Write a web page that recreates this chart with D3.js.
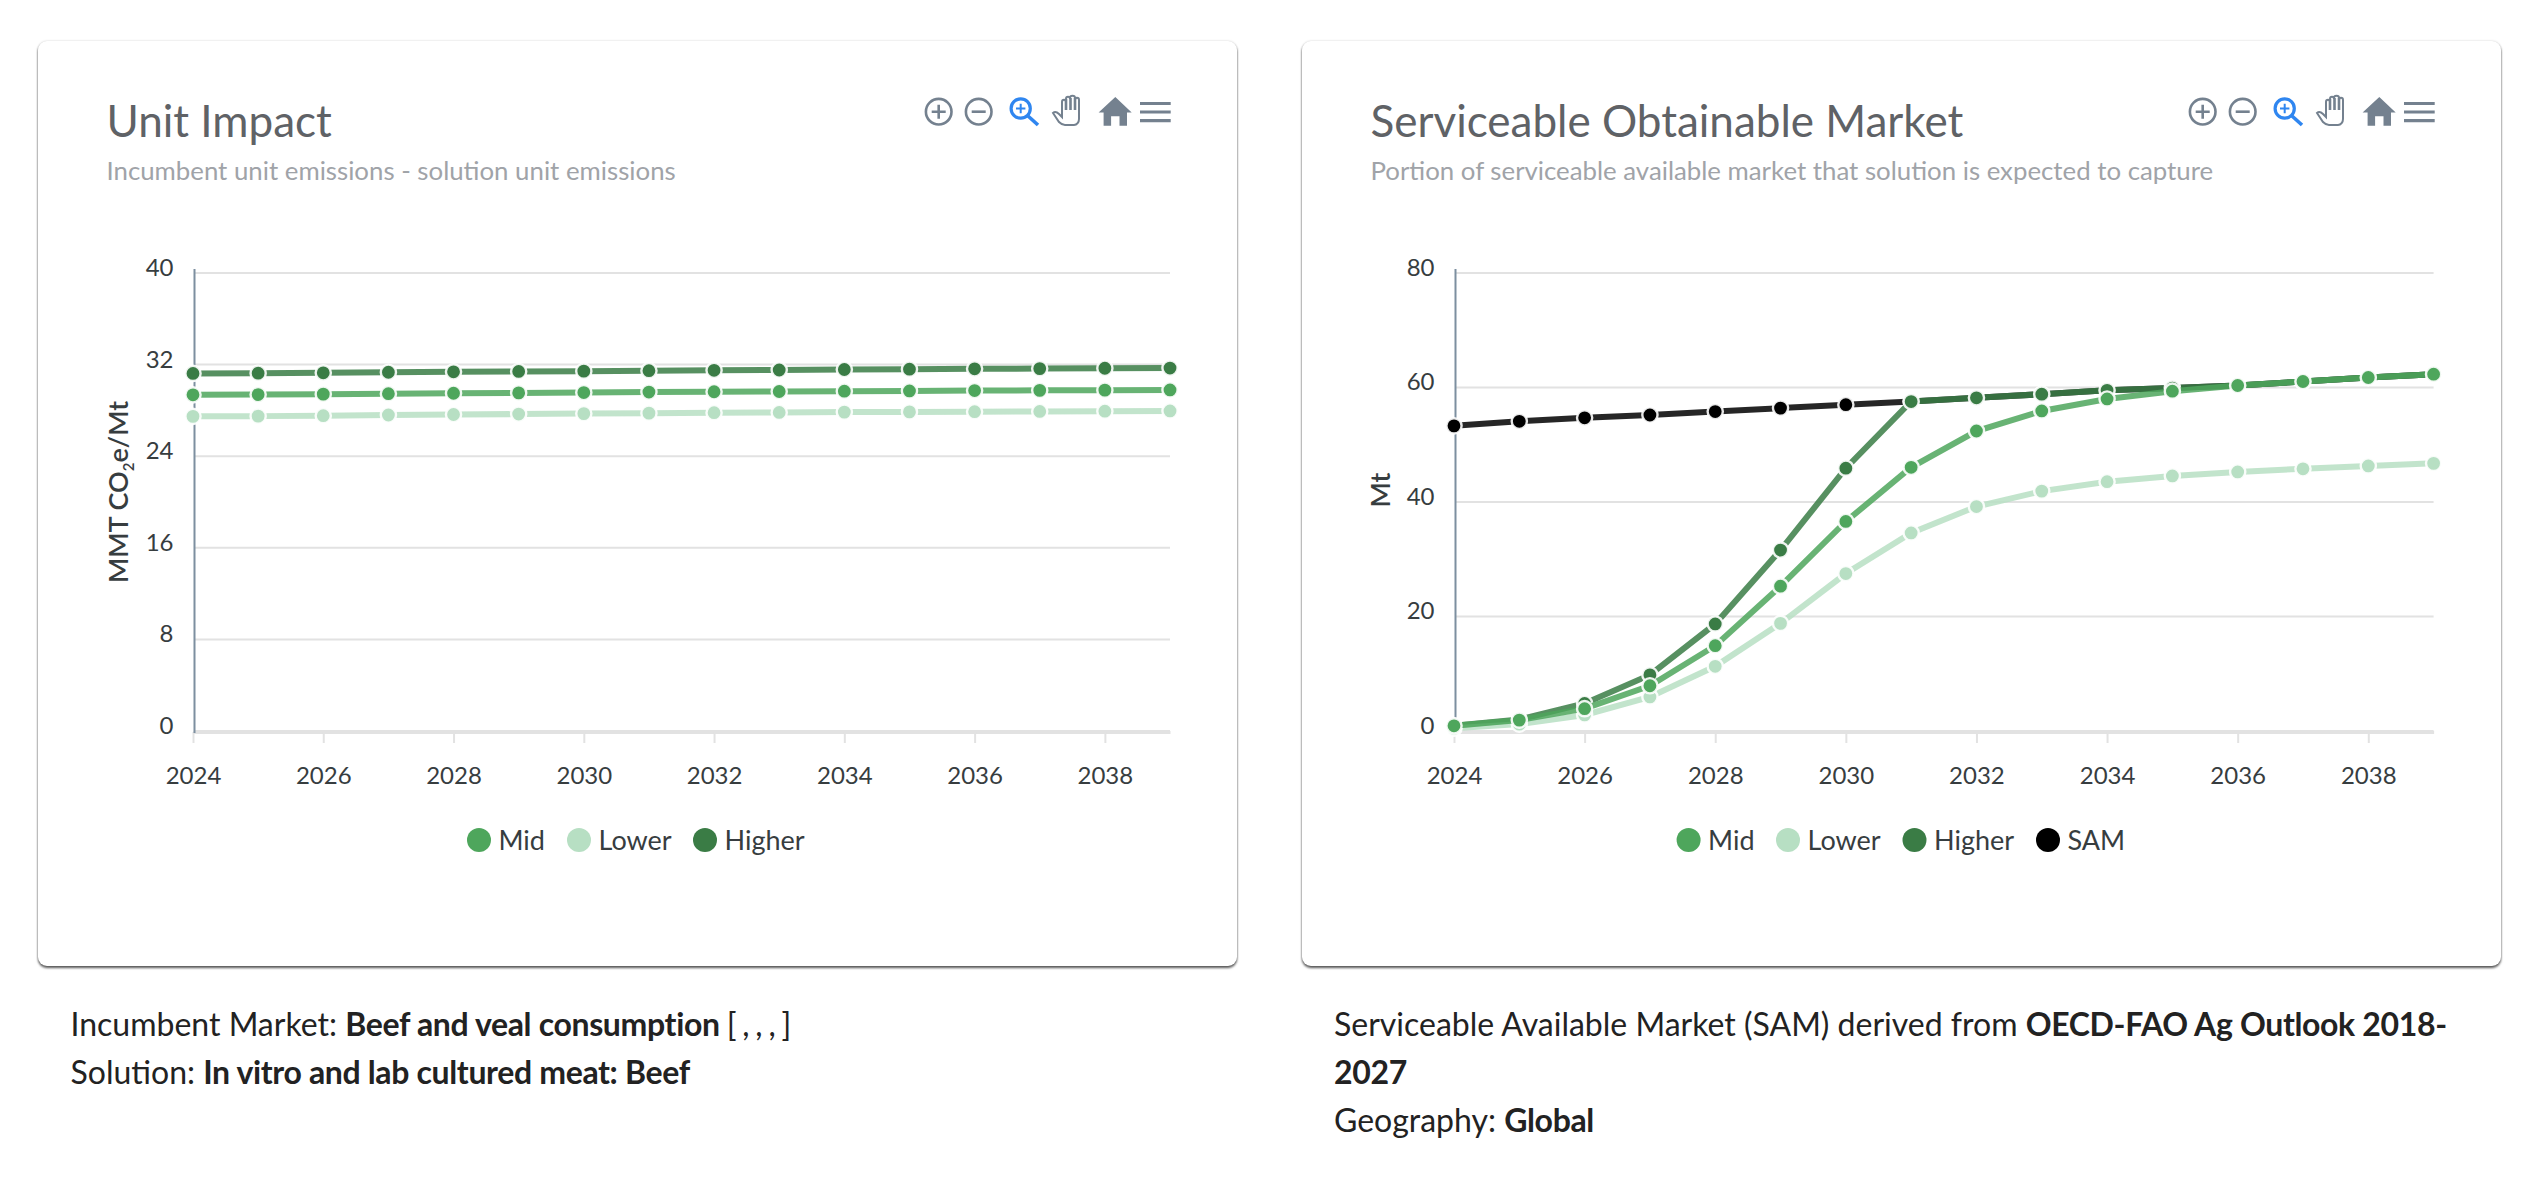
<!DOCTYPE html>
<html>
<head>
<meta charset="utf-8">
<script src="https://cdnjs.cloudflare.com/ajax/libs/d3/7.8.5/d3.min.js"></script>
<style>
  html, body { margin: 0; padding: 0; background: #fff; }
  svg { display: block; font-family: Lato, sans-serif; }
  .card { fill: #fff; filter: drop-shadow(0 0 1px rgba(0,0,0,.16)) drop-shadow(0 2px 1px rgba(40,40,40,.75)); }
  .tick text { fill: #373d3f; font-size: 24px; }
  .legend text { fill: #373d3f; font-size: 27px; }
  .note { fill: #222; font-size: 32px; }
  .note .b { font-weight: 700; letter-spacing: -0.35px; }
  .note .tight { letter-spacing: -1.2px; }
</style>
</head>
<body>
<script>
const years = d3.range(2024, 2040);
const yearTicks = [2024, 2026, 2028, 2030, 2032, 2034, 2036, 2038];

const unitTicks = [0, 8, 16, 24, 32, 40];
const unitMid = [29.36, 29.38, 29.42, 29.46, 29.5, 29.53, 29.56, 29.6, 29.63, 29.65, 29.68, 29.7, 29.73, 29.75, 29.77, 29.79];
const unitLower = [27.48, 27.5, 27.54, 27.6, 27.64, 27.68, 27.72, 27.76, 27.8, 27.82, 27.85, 27.87, 27.89, 27.91, 27.93, 27.95];
const unitHigher = [31.23, 31.25, 31.28, 31.33, 31.37, 31.4, 31.43, 31.47, 31.5, 31.53, 31.57, 31.6, 31.63, 31.65, 31.68, 31.7];

const marketTicks = [0, 20, 40, 60, 80];
const marketMid = [0.9, 1.9, 3.9, 7.9, 14.9, 25.3, 36.6, 46.06, 52.4, 55.9, 58.0, 59.36, 60.35, 61.05, 61.75, 62.33];
const marketLower = [0.5, 1.2, 2.8, 5.95, 11.3, 18.8, 27.5, 34.6, 39.2, 41.9, 43.55, 44.55, 45.25, 45.8, 46.3, 46.75];
const marketHigher = [0.9, 2.0, 4.8, 9.8, 18.7, 31.6, 45.9, 57.55, 58.2, 58.83, 59.5, 59.9, 60.35, 61.05, 61.75, 62.33];
const marketSam = [53.3, 54.1, 54.7, 55.2, 55.8, 56.4, 57.0, 57.55, 58.2, 58.83, 59.5, 59.9, 60.35, 61.05, 61.75, 62.33];

const colors = {Mid: "#4ea65c", Lower: "#b7dfc3", Higher: "#3a7c45", SAM: "#000000"};

const svg = d3.select("body").append("svg").attr("width", 2540).attr("height", 1180);

function drawIcons(g) {
    const grey = "#74818f";
    const blue = "#2f86f0";
    const ic = g.append("g").attr("fill", "none").attr("stroke", grey).attr("stroke-width", 2.6);
    // zoom in / zoom out
    ic.append("circle").attr("cx", 938.7).attr("cy", 111.7).attr("r", 12.8);
    ic.append("path").attr("d", "M931.7 111.7h14M938.7 104.7v14");
    ic.append("circle").attr("cx", 978.7).attr("cy", 111.7).attr("r", 12.8);
    ic.append("path").attr("d", "M971.7 111.7h14");
    // magnifier
    ic.append("circle").attr("cx", 1020.7).attr("cy", 108.5).attr("r", 9.6).attr("stroke", blue).attr("stroke-width", 3.2);
    ic.append("path").attr("d", "M1016 108.5h9.4M1020.7 103.8v9.4").attr("stroke", blue).attr("stroke-width", 2);
    ic.append("path").attr("d", "M1028 116l10 9").attr("stroke", blue).attr("stroke-width", 3.6);
    // hand
    ic.append("path").attr("stroke-width", 2)
        .attr("d", "M1053 113c2-2 4-1 6 1l3 3v-15c0-3 4-3 4 0v-3c0-3 4-3 4 0v-1c0-3 5-3 5 0v2c0-3 4-3 4 0v19c0 3-2 6-5 6h-9c-3 0-4-1-6-3l-6-9z");
    ic.append("path").attr("stroke-width", 2.6).attr("d", "M1066 99v11M1070.5 98v12M1075 98v12");
    // home
    g.append("path").attr("fill", grey)
        .attr("d", "M1115.3 97l16.4 15.5h-4.7v13.3h-7.5v-9.5h-8.4v9.5h-7.5v-13.3h-5z");
    // menu
    g.append("path").attr("stroke", grey).attr("stroke-width", 3.2)
        .attr("d", "M1140 103.5h30.7M1140 112h30.7M1140 120.7h30.7");
}

function drawChart(cfg) {
    const root = svg.append("g");
    root.append("rect").attr("class", "card")
        .attr("x", cfg.cardX).attr("y", 41).attr("width", 1199).attr("height", 925).attr("rx", 9);

    root.append("text").attr("x", cfg.cardX + 68.5).attr("y", 137)
        .attr("font-size", 44).attr("fill", "#5f6266").text(cfg.title);
    root.append("text").attr("x", cfg.cardX + 68.5).attr("y", 180)
        .attr("font-size", 25.8).attr("fill", "#a0a3a8").text(cfg.subtitle);

    drawIcons(root.append("g").attr("transform", `translate(${cfg.cardX - 38},0)`));

    const x = d3.scaleLinear().domain([2024, 2039]).range(cfg.xRange);
    const y = d3.scaleLinear().domain(cfg.yDomain).range([731, 273]);

    // grid
    root.append("g").selectAll("line").data(cfg.yTicks).join("line")
        .attr("x1", cfg.xRange[0] + 1).attr("x2", cfg.xRange[1])
        .attr("y1", d => y(d)).attr("y2", d => y(d))
        .attr("stroke", "#e2e2e2").attr("stroke-width", 2);

    const xAxis = root.append("g").attr("transform", "translate(0,732)")
        .call(d3.axisBottom(x).tickValues(yearTicks).tickFormat(d3.format("d"))
            .tickSizeInner(11).tickSizeOuter(0).tickPadding(24));
    xAxis.select(".domain").attr("stroke", "#e2e2e2").attr("stroke-width", 3);
    xAxis.selectAll("line").attr("stroke", "#e2e2e2").attr("stroke-width", 2);
    xAxis.selectAll("text").attr("font-family", "Lato").attr("dy", "0.71em");

    const yAxis = root.append("g").attr("transform", `translate(${cfg.xRange[0] + 1.5},0)`)
        .call(d3.axisLeft(y).tickValues(cfg.yTicks).tickSize(0).tickPadding(cfg.yPad));
    yAxis.select(".domain").attr("stroke", "#7d8fa0").attr("stroke-width", 2)
        .attr("d", "M0,269V733");
    yAxis.selectAll("text").attr("font-family", "Lato").attr("dy", "0.1em");

    // y title
    const t = root.append("text")
        .attr("transform", `translate(${cfg.yTitleX},${cfg.yTitleY}) rotate(-90)`)
        .attr("text-anchor", "middle").attr("font-size", 27).attr("font-weight", 600).attr("fill", "#373d3f");
    cfg.yTitle.forEach(p => {
        if (p.sub) t.append("tspan").attr("font-size", 15).attr("dy", 6).text(p.text);
        else t.append("tspan").attr("dy", p.after ? -6 : 0).text(p.text);
    });

    // legend order is Mid first, drawing order is the reverse
    const line = d3.line().x((d, i) => x(years[i])).y(d => y(d));
    cfg.series.slice().reverse().forEach(s => {
        const g = root.append("g");
        g.append("path").datum(s.values).attr("d", line)
            .attr("fill", "none").attr("stroke", colors[s.name])
            .attr("stroke-opacity", 0.85).attr("stroke-width", 6);
        g.selectAll("circle").data(s.values).join("circle")
            .attr("cx", (d, i) => x(years[i])).attr("cy", d => y(d)).attr("r", 7.6)
            .attr("fill", colors[s.name]).attr("stroke", "#fff").attr("stroke-opacity", 0.9).attr("stroke-width", 2.4);
    });

    const legend = root.append("g").attr("class", "legend");
    cfg.series.forEach((s, i) => {
        legend.append("circle").attr("cx", cfg.legendX[i]).attr("cy", 840).attr("r", 12).attr("fill", colors[s.name]);
        legend.append("text").attr("x", cfg.legendX[i] + 19.5).attr("y", 850).text(s.name);
    });

    const notes = root.append("g").attr("class", "note");
    cfg.notes.forEach((parts, i) => {
        const n = notes.append("text").attr("x", cfg.noteX).attr("y", 1036 + i * 48);
        parts.forEach(p => n.append("tspan").attr("class", p.b ? "b" : p.tight ? "tight" : null).text(p.t));
    });
}

drawChart({
    cardX: 38, xRange: [193, 1170], yDomain: [0, 40], yTicks: unitTicks, yPad: 21,
    title: "Unit Impact", subtitle: "Incumbent unit emissions - solution unit emissions",
    yTitle: [{text: "MMT CO"}, {text: "2", sub: true}, {text: "e/Mt", after: true}], yTitleX: 128, yTitleY: 492,
    series: [{name: "Mid", values: unitMid}, {name: "Lower", values: unitLower}, {name: "Higher", values: unitHigher}],
    legendX: [479, 579, 705], noteX: 70.5,
    notes: [
        [{t: "Incumbent Market: "}, {t: "Beef and veal consumption", b: true}, {t: " [ , , , ]", tight: true}],
        [{t: "Solution: "}, {t: "In vitro and lab cultured meat: Beef", b: true}]
    ]
});

drawChart({
    cardX: 1302, xRange: [1454, 2433.6], yDomain: [0, 80], yTicks: marketTicks, yPad: 21,
    title: "Serviceable Obtainable Market", subtitle: "Portion of serviceable available market that solution is expected to capture",
    yTitle: [{text: "Mt"}], yTitleX: 1390, yTitleY: 490,
    series: [{name: "Mid", values: marketMid}, {name: "Lower", values: marketLower}, {name: "Higher", values: marketHigher}, {name: "SAM", values: marketSam}],
    legendX: [1688.6, 1788, 1914.5, 2048], noteX: 1334,
    notes: [
        [{t: "Serviceable Available Market (SAM) derived from "}, {t: "OECD-FAO Ag Outlook 2018-", b: true}],
        [{t: "2027", b: true}],
        [{t: "Geography: "}, {t: "Global", b: true}]
    ]
});
</script>
</body>
</html>
